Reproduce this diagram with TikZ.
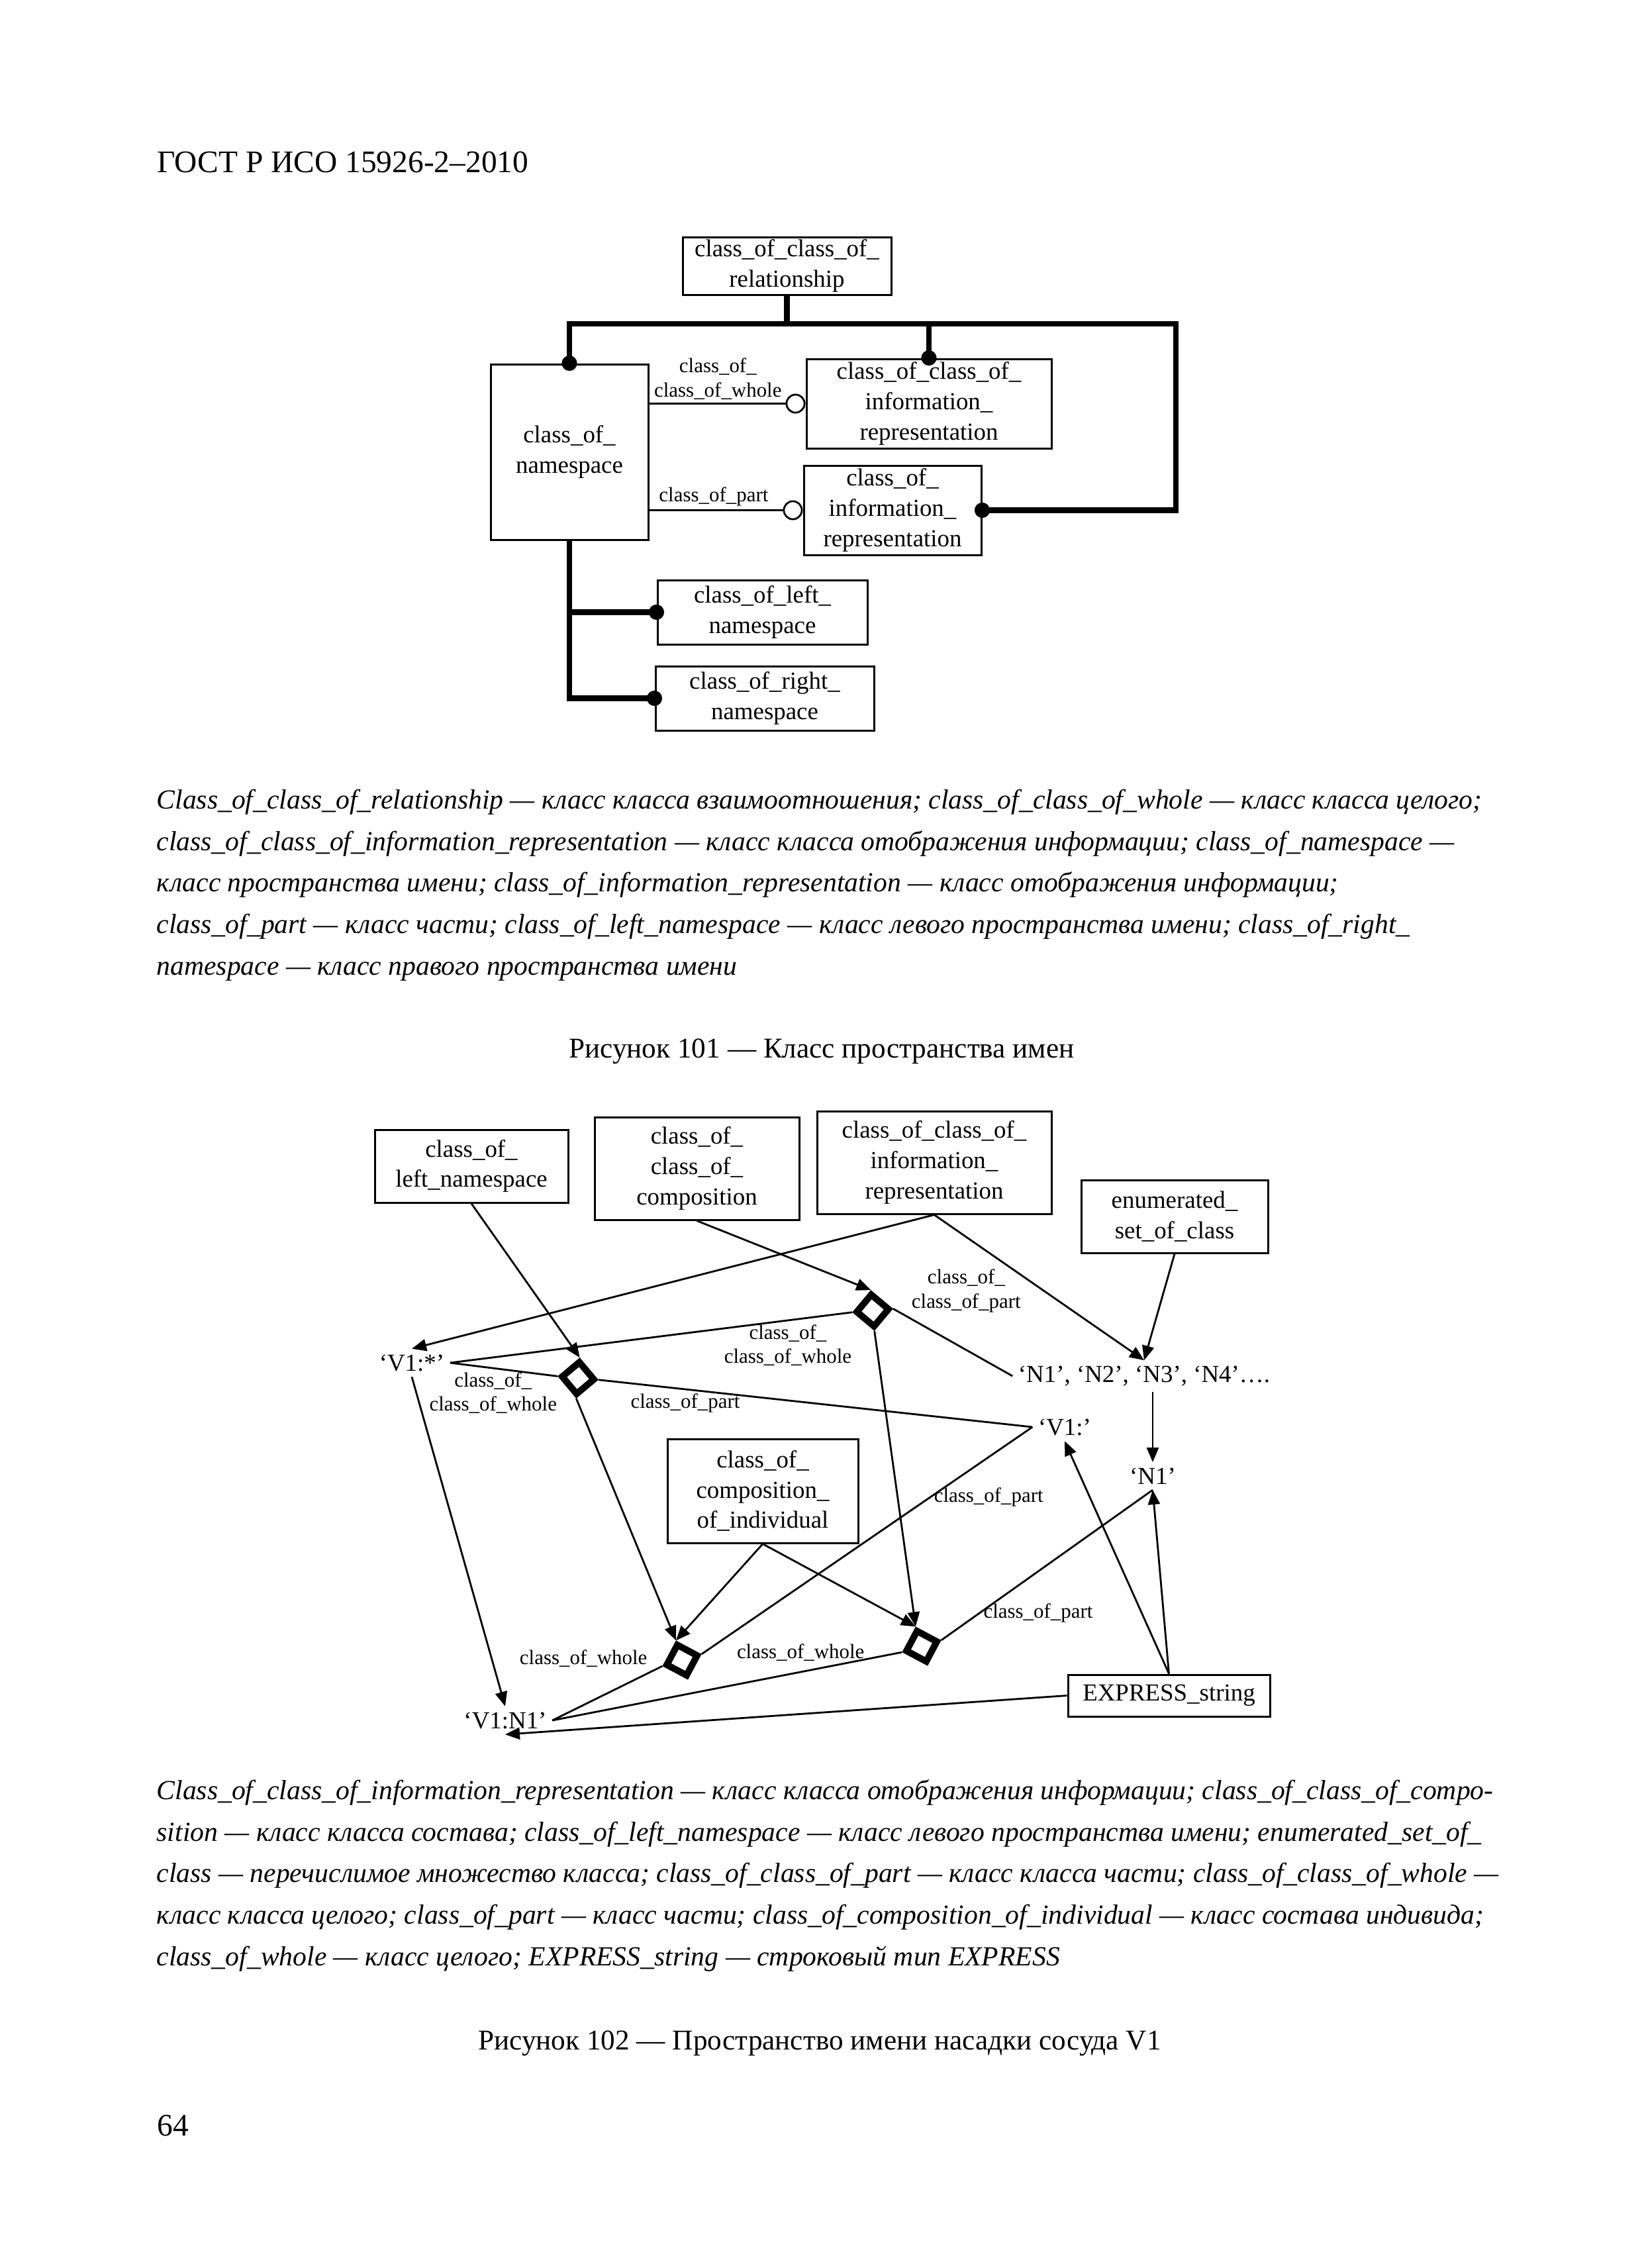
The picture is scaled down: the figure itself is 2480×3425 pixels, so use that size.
\documentclass[tikz,border=0pt]{standalone}
\usepackage{fontspec}
\setmainfont{Liberation Serif}
\usetikzlibrary{arrows.meta,shapes.geometric,calc}

\begin{document}
\begin{tikzpicture}[
  x=0.1mm, y=-0.1mm,
  box/.style={draw, line width=0.3mm, align=center, inner sep=0pt, font=\fontsize{10.5}{13}\selectfont},
  val/.style={inner sep=0.8mm, font=\fontsize{10.5}{13}\selectfont},
  lbl/.style={font=\fontsize{8.8}{10.4}\selectfont, align=center, inner sep=0.5mm},
  note/.style={align=left, inner sep=0pt, anchor=base west, font=\fontsize{11.85}{17.8}\selectfont\itshape},
  capt/.style={inner sep=0pt, anchor=base, font=\fontsize{12.3}{15}\selectfont},
  link/.style={draw, diamond, line width=1mm, minimum size=5.2mm, inner sep=0pt},
  bus/.style={line width=0.85mm},
  rel/.style={line width=0.28mm},
  dotend/.style={-{Circle[length=2.3mm]}, shorten >=-1.15mm},
  ringend/.style={-{Circle[open, length=3mm]}},
  >={Triangle[length=2.2mm, width=1.8mm]},
]
\path[use as bounding box, fill=white] (0,0) rectangle (2480,3425);

\node[capt, anchor=base west, font=\fontsize{13.5}{16}\selectfont] (head) at (237,260) {ГОСТ Р ИСО 15926-2–2010};

% Figure 101
\node[box, minimum width=31.5mm, minimum height=8.7mm] (ccrel) at (1188.5,401.5) {class\_of\_class\_of\_\\relationship};
\node[box, minimum width=23.8mm, minimum height=26.5mm] (ns) at (860,682.5) {class\_of\_\\namespace};
\node[box, minimum width=37mm, minimum height=13.5mm] (ccir) at (1403,609.5) {class\_of\_class\_of\_\\information\_\\representation};
\node[box, minimum width=26.8mm, minimum height=13.5mm] (cir) at (1348,770.5) {class\_of\_\\information\_\\representation};
\node[box, minimum width=31.7mm, minimum height=9.7mm] (cln1) at (1151.5,924.5) {class\_of\_left\_\\namespace};
\node[box, minimum width=33mm, minimum height=9.7mm] (crn) at (1155,1054.5) {class\_of\_right\_\\namespace};

\coordinate (bl) at (860,489);
\coordinate (br) at (1776,489);
\draw[bus] (ccrel.south) -- (ccrel.south |- bl);
\draw[bus, {Circle[length=2.3mm]}-{Circle[length=2.3mm]}, shorten <=-1.15mm, shorten >=-1.15mm] (ns.north) -- (bl) -- (br) |- (cir.east);
\draw[bus, dotend] (ccir.north |- bl) -- (ccir.north);
\draw[bus, dotend] (ns.south) |- (crn.west);
\draw[bus, dotend] (ns.south |- cln1.west) -- (cln1.west);
\draw[rel, ringend] (ns.east |- ccir.west) -- node[lbl, pos=0.44, above] {class\_of\_\\class\_of\_whole} (ccir.west);
\draw[rel, ringend] (ns.east |- cir.west) -- node[lbl, pos=0.42, above] {class\_of\_part} (cir.west);

\node[note] (note1) at (236,1472) {Class\_of\_class\_of\_relationship — класс класса взаимоотношения; class\_of\_class\_of\_whole — класс класса целого;\\
class\_of\_class\_of\_information\_representation — класс класса отображения информации; class\_of\_namespace —\\
класс пространства имени; class\_of\_information\_representation — класс отображения информации;\\
class\_of\_part — класс части; class\_of\_left\_namespace — класс левого пространства имени; class\_of\_right\_\\
namespace — класс правого пространства имени};
\node[capt] (cap1) at (1241,1597) {Рисунок 101 — Класс пространства имен};

% Figure 102
\node[box, minimum width=29.2mm, minimum height=11mm] (cln) at (712,1761) {class\_of\_\\left\_namespace};
\node[box, minimum width=30.9mm, minimum height=15.5mm] (ccc) at (1052.5,1764.5) {class\_of\_\\class\_of\_\\composition};
\node[box, minimum width=35.4mm, minimum height=15.5mm] (ccir2) at (1411,1755.5) {class\_of\_class\_of\_\\information\_\\representation};
\node[box, minimum width=28.2mm, minimum height=11mm] (esc) at (1774,1837) {enumerated\_\\set\_of\_class};
\node[box, minimum width=28.8mm, minimum height=15.7mm] (cci) at (1152,2251.5) {class\_of\_\\composition\_\\of\_individual};
\node[box, minimum width=30.5mm, minimum height=6.3mm] (expr) at (1765.5,2560.5) {EXPRESS\_string};

\node[val] (v1s) at (622,2058) {‘V1:*’};
\node[val] (nlist) at (1728,2078) {‘N1’, ‘N2’, ‘N3’, ‘N4’….};
\node[val] (v1c) at (1608,2155) {‘V1:’};
\node[val] (n1) at (1741,2229) {‘N1’};
\node[val] (v1n1) at (763,2598) {‘V1:N1’};

\node[link, rotate=5] (d1) at (1318,1979) {};
\node[link, rotate=-5] (d2) at (873,2081) {};
\node[link, rotate=17] (d3) at (1030,2507) {};
\node[link, rotate=17] (d4) at (1392,2486) {};

\draw[rel, ->] (cln.south) -- (d2.north);
\draw[rel, ->] (ccc.south) -- (d1.north);
\draw[rel, ->] (ccir2.south) -- (v1s.north);
\draw[rel, ->] (ccir2.south) -- (nlist.north);
\draw[rel, ->] (esc.south) -- (nlist.north);
\draw[rel, ->] (nlist.south -| n1.north) -- (n1.north);
\draw[rel, ->] (v1s.south) -- (v1n1.north);
\draw[rel, ->] (d2.south) -- (d3.north);
\draw[rel, ->] (cci.south) -- (d3.north);
\draw[rel, ->] (cci.south) -- (d4.north);
\draw[rel, ->] (d1.south) -- (d4.north);
\draw[rel, ->] (expr.north) -- (v1c.south);
\draw[rel, ->] (expr.north) -- (n1.south);
\draw[rel, ->] (expr.west) -- (v1n1.south);

\draw[rel] (d1.west) -- node[lbl, pos=0.16, below] {class\_of\_\\class\_of\_whole} (v1s.east);
\draw[rel] (d1.east) -- node[lbl, pos=0.12, above right] {class\_of\_\\class\_of\_part} (nlist.west);
\draw[rel] (d2.west) -- node[lbl, pos=0.6, below] {class\_of\_\\class\_of\_whole} (v1s.east);
\draw[rel] (d2.east) -- node[lbl, pos=0.2, below] {class\_of\_part} (v1c.west);
\draw[rel] (d3.east) -- node[lbl, pos=0.69, right] {class\_of\_part} (v1c.west);
\draw[rel] (d3.west) -- node[lbl, pos=0.1, above left] {class\_of\_whole} (v1n1.east);
\draw[rel] (d4.west) -- node[lbl, pos=0.29, above=1mm] {class\_of\_whole} (v1n1.east);
\draw[rel] (d4.east) -- node[lbl, pos=0.18, right] {class\_of\_part} (n1.south);

\node[note] (note2) at (236,2968) {Class\_of\_class\_of\_information\_representation — класс класса отображения информации; class\_of\_class\_of\_compo-\\
sition — класс класса состава; class\_of\_left\_namespace — класс левого пространства имени; enumerated\_set\_of\_\\
class — перечислимое множество класса; class\_of\_class\_of\_part — класс класса части; class\_of\_class\_of\_whole —\\
класс класса целого; class\_of\_part — класс части; class\_of\_composition\_of\_individual — класс состава индивида;\\
class\_of\_whole — класс целого; EXPRESS\_string — строковый тип EXPRESS};
\node[capt] (cap2) at (1238,3095) {Рисунок 102 — Пространство имени насадки сосуда V1};

\node[capt, anchor=base west, font=\fontsize{13.5}{16}\selectfont] (page) at (237,3225) {64};
\end{tikzpicture}
\end{document}
